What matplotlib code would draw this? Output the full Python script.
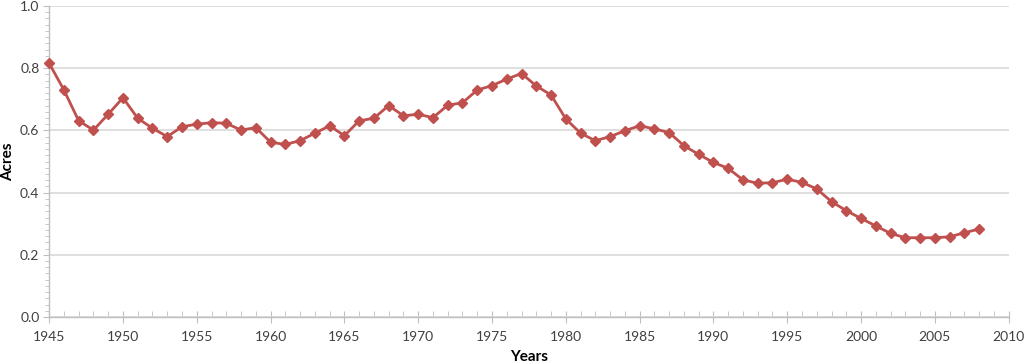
import matplotlib
matplotlib.use("Agg")
import matplotlib.pyplot as plt
from matplotlib.ticker import MultipleLocator

years = list(range(1945, 2009))
acres = [0.816, 0.730, 0.631, 0.601, 0.652, 0.705, 0.639, 0.607, 0.580, 0.612,
         0.620, 0.625, 0.623, 0.601, 0.609, 0.562, 0.555, 0.567, 0.591, 0.615,
         0.583, 0.631, 0.639, 0.680, 0.647, 0.652, 0.641, 0.681, 0.689, 0.730,
         0.744, 0.765, 0.783, 0.743, 0.714, 0.637, 0.591, 0.567, 0.580, 0.599,
         0.615, 0.605, 0.593, 0.551, 0.523, 0.497, 0.478, 0.441, 0.430, 0.432,
         0.443, 0.433, 0.412, 0.371, 0.342, 0.317, 0.293, 0.269, 0.255, 0.255,
         0.255, 0.258, 0.271, 0.283]

plt.rcParams['font.family'] = ['Lato', 'DejaVu Sans']

fig = plt.figure(figsize=(10.24, 3.64), dpi=100)
ax = fig.add_axes([0.048, 0.129, 0.937, 0.8545])

ax.plot(years, acres, color='#C0504D', linewidth=2, marker='D', markersize=5.5,
        markerfacecolor='#C0504D', markeredgecolor='#C0504D', zorder=3, clip_on=False)

ax.set_xlim(1945, 2010)
ax.set_ylim(0, 1.0)
ax.xaxis.set_major_locator(MultipleLocator(5))
ax.xaxis.set_minor_locator(MultipleLocator(1))
ax.yaxis.set_major_locator(MultipleLocator(0.2))
ax.yaxis.set_minor_locator(MultipleLocator(0.02))
ax.yaxis.set_major_formatter(matplotlib.ticker.FormatStrFormatter('%.1f'))

ax.grid(axis='y', which='major', color='#d9d9d9', linewidth=1.2)
ax.set_axisbelow(True)
for s in ['top', 'right']:
    ax.spines[s].set_visible(False)
for s in ['left', 'bottom']:
    ax.spines[s].set_color('#bfbfbf')
    ax.spines[s].set_linewidth(1)

ax.tick_params(axis='x', which='major', direction='inout', length=8, color='#bfbfbf',
               labelsize=10, labelcolor='#404040', pad=6)
ax.tick_params(axis='x', which='minor', direction='in', length=4, color='#bfbfbf')
ax.tick_params(axis='y', which='major', direction='out', length=4, color='#bfbfbf',
               labelsize=10, labelcolor='#404040', pad=3)
ax.tick_params(axis='y', which='minor', direction='out', length=3, color='#bfbfbf')

ax.set_xlabel('Years', fontsize=11, fontweight='bold', labelpad=5)
fig.text(8 / 1024, 0.556, 'Acres', fontsize=11, fontweight='bold', rotation=90,
         ha='center', va='center')

fig.savefig('out.png', dpi=100)
